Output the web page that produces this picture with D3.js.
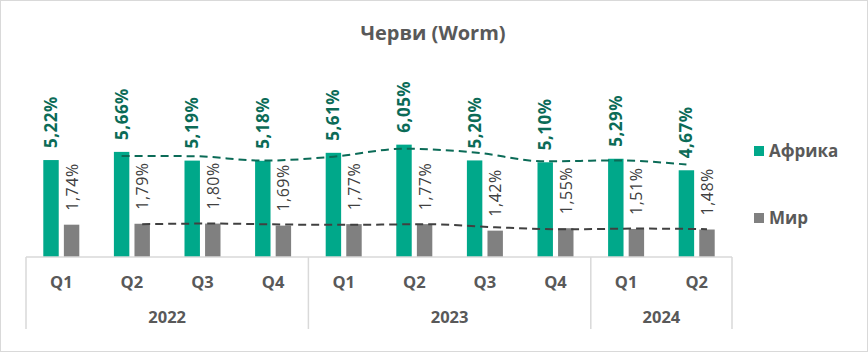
<!DOCTYPE html>
<html>
<head>
<meta charset="utf-8">
<script src="https://cdn.jsdelivr.net/npm/d3@7"></script>
<style>
  body { margin: 0; background: #fff; }
  svg text { font-family: "Open Sans", sans-serif; }
</style>
</head>
<body>
<svg id="chart"></svg>
<script>
// data
const quarters = ['Q1', 'Q2', 'Q3', 'Q4', 'Q1', 'Q2', 'Q3', 'Q4', 'Q1', 'Q2']
const years = ['2022', '2022', '2022', '2022', '2023', '2023', '2023', '2023', '2024', '2024']
const yearGroups = ['2022', '2023', '2024']
const seriesNames = ['Африка', 'Мир']
const africa = [5.22, 5.66, 5.19, 5.18, 5.61, 6.05, 5.20, 5.10, 5.29, 4.67]
const world = [1.74, 1.79, 1.80, 1.69, 1.77, 1.77, 1.42, 1.55, 1.51, 1.48]
// dashed trend lines (start at 2nd quarter)
const africaTrend = [null, 5.44, 5.43, 5.19, 5.40, 5.83, 5.63, 5.15, 5.20, 4.98]
const worldTrend = [null, 1.77, 1.80, 1.75, 1.73, 1.77, 1.60, 1.49, 1.53, 1.50]

const width = 868
const height = 352
const padLeft = 26
const padRight = 136
const baseY = 257
const topY = 127

const colors = { 'Африка': '#00a88a', 'Мир': '#808080' }
const labelColors = { 'Африка': '#0b6b57', 'Мир': '#404040' }
const trendColors = { 'Африка': '#0b6b57', 'Мир': '#404040' }

const svg = d3.select('#chart')
  .attr('width', width)
  .attr('height', height)

// outer border
svg.append('rect')
  .attr('x', 0.5).attr('y', 0.5)
  .attr('width', width - 1).attr('height', height - 1)
  .attr('fill', '#fff')
  .attr('stroke', '#d9d9d9')

// title
svg.append('text')
  .attr('x', 433).attr('y', 40)
  .attr('text-anchor', 'middle')
  .style('font-size', '20px')
  .style('font-weight', 'bold')
  .style('fill', '#595959')
  .text('Черви (Worm)')

const idx = d3.range(quarters.length)
const x0 = d3.scaleBand().domain(idx).range([padLeft, width - padRight]).paddingInner(0.49).paddingOuter(0.245)
const x1 = d3.scaleBand().domain(seriesNames).range([0, x0.bandwidth()]).paddingInner(0.25)
const y = d3.scaleLinear().domain([0, 7]).range([baseY, topY])
const step = x0.step()
const catLeft = i => padLeft + i * step

const values = { 'Африка': africa, 'Мир': world }
const trends = { 'Африка': africaTrend, 'Мир': worldTrend }

// bars
seriesNames.forEach(s => {
  svg.append('g').selectAll('rect')
    .data(values[s])
    .join('rect')
    .attr('x', (d, i) => x0(i) + x1(s))
    .attr('y', d => y(d))
    .attr('width', x1.bandwidth())
    .attr('height', d => baseY - y(d))
    .attr('fill', colors[s])
})

// trend lines
seriesNames.forEach(s => {
  const pts = trends[s].map((v, i) => ({ i, v })).filter(d => d.v != null)
  const line = d3.line()
    .x(d => x0(d.i) + x1(s) + x1.bandwidth() / 2)
    .y(d => y(d.v))
    .curve(d3.curveMonotoneX)
  svg.append('path')
    .attr('d', line(pts))
    .attr('fill', 'none')
    .attr('stroke', trendColors[s])
    .attr('stroke-width', 2)
    .attr('stroke-dasharray', '8,5')
})

// data labels (rotated)
seriesNames.forEach(s => {
  const bold = s === 'Африка'
  svg.append('g').selectAll('text')
    .data(values[s])
    .join('text')
    .attr('transform', (d, i) => {
      const cx = x0(i) + x1(s) + x1.bandwidth() / 2 + 6
      const cy = y(d) - (bold ? 12 : 14)
      return 'translate(' + cx + ',' + cy + ') rotate(-90)'
    })
    .style('font-size', bold ? '17px' : '16px')
    .style('font-weight', bold ? 'bold' : 'normal')
    .style('letter-spacing', '0.5px')
    .style('fill', labelColors[s])
    .text(d => d.toFixed(2).replace('.', ',') + '%')
})

// category axis
const axis = svg.append('g')
axis.append('line')
  .attr('x1', padLeft).attr('x2', width - padRight)
  .attr('y1', baseY).attr('y2', baseY)
  .attr('stroke', '#d9d9d9').attr('stroke-width', 1.5)

axis.selectAll('.q')
  .data(quarters)
  .join('text')
  .attr('x', (d, i) => catLeft(i) + step / 2)
  .attr('y', 288)
  .attr('text-anchor', 'middle')
  .style('font-size', '16.5px')
  .style('font-weight', 'bold')
  .style('fill', '#595959')
  .text(d => d)

// year groups
const groups = yearGroups.map(g => {
  const ids = idx.filter(i => years[i] === g)
  return { g, start: catLeft(d3.min(ids)), end: catLeft(d3.max(ids) + 1) }
})
const bounds = [groups[0].start].concat(groups.map(d => d.end))
axis.selectAll('.sep')
  .data(bounds)
  .join('line')
  .attr('x1', d => d).attr('x2', d => d)
  .attr('y1', baseY).attr('y2', 329)
  .attr('stroke', '#d9d9d9').attr('stroke-width', 1.5)
axis.selectAll('.yr')
  .data(groups)
  .join('text')
  .attr('x', d => (d.start + d.end) / 2)
  .attr('y', 323)
  .attr('text-anchor', 'middle')
  .style('font-size', '16.5px')
  .style('font-weight', 'bold')
  .style('fill', '#595959')
  .text(d => d.g)

// legend
const legend = svg.append('g')
  .selectAll('g')
  .data(seriesNames)
  .join('g')
  .attr('transform', (d, i) => 'translate(754,' + (146 + i * 67) + ')')
legend.append('rect')
  .attr('width', 10).attr('height', 10)
  .attr('fill', d => colors[d])
legend.append('text')
  .attr('x', 15).attr('y', 11)
  .style('font-size', '17px')
  .style('font-weight', 'bold')
  .style('fill', '#595959')
  .text(d => d)
</script>
</body>
</html>
